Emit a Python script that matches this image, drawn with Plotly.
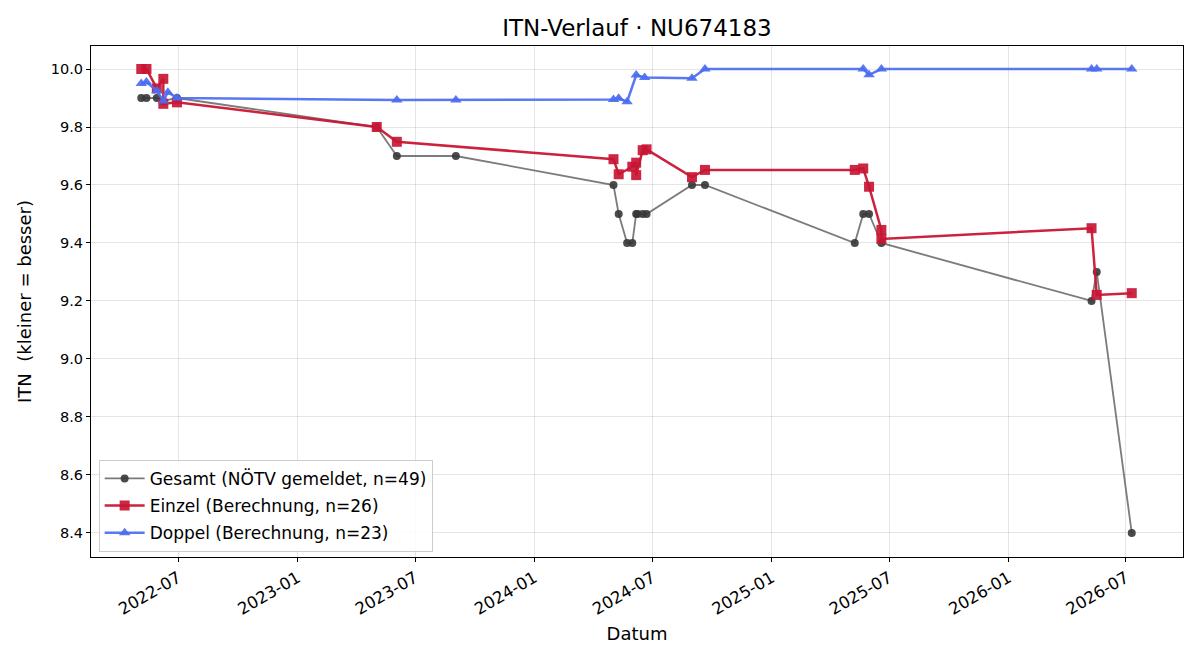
import plotly.graph_objects as go

# ---- data ----
gesamt_dates = ["2022-05-05", "2022-05-13", "2022-05-29", "2022-06-08", "2022-06-29",
                "2023-05-03", "2023-06-03", "2023-09-02",
                "2024-05-02", "2024-05-10", "2024-05-23", "2024-05-31", "2024-06-06",
                "2024-06-08", "2024-06-16", "2024-06-22", "2024-08-31", "2024-09-20",
                "2025-05-09", "2025-05-22", "2025-05-31", "2025-06-19",
                "2026-05-09", "2026-05-17", "2026-07-10"]
gesamt_vals = [9.9, 9.9, 9.9, 9.89, 9.9,
               9.8, 9.7, 9.7,
               9.6, 9.5, 9.4, 9.4, 9.5,
               9.5, 9.5, 9.5, 9.6, 9.6,
               9.4, 9.5, 9.5, 9.4,
               9.2, 9.3, 8.4]

einzel_dates = ["2022-05-05", "2022-05-13", "2022-05-29", "2022-06-08", "2022-06-08", "2022-06-29",
                "2023-05-03", "2023-06-03",
                "2024-05-02", "2024-05-10", "2024-05-31", "2024-06-06", "2024-06-06",
                "2024-06-16", "2024-06-22", "2024-08-31", "2024-09-20",
                "2025-05-09", "2025-05-22", "2025-05-31", "2025-06-19", "2025-06-19",
                "2026-05-09", "2026-05-17", "2026-07-10"]
einzel_vals = [10.0, 10.0, 9.933, 9.966, 9.88, 9.885,
               9.80, 9.749,
               9.689, 9.637, 9.663, 9.677, 9.634,
               9.72, 9.723, 9.627, 9.652,
               9.652, 9.657, 9.594, 9.445, 9.414,
               9.451, 9.221, 9.227]

doppel_dates = ["2022-05-05", "2022-05-13", "2022-05-29", "2022-06-08", "2022-06-15", "2022-06-29",
                "2023-06-03", "2023-09-02",
                "2024-05-02", "2024-05-10", "2024-05-23", "2024-06-06", "2024-06-19",
                "2024-08-31", "2024-09-20",
                "2025-05-22", "2025-05-31", "2025-06-19",
                "2026-05-09", "2026-05-17", "2026-07-10"]
doppel_vals = [9.95, 9.955, 9.925, 9.89, 9.92, 9.90,
               9.893, 9.893,
               9.895, 9.899, 9.887, 9.979, 9.971,
               9.968, 10.0,
               10.0, 9.98, 10.0,
               10.0, 10.0, 10.0]

x_tick_dates = ["2022-07-01", "2023-01-01", "2023-07-01", "2024-01-01", "2024-07-01",
                "2025-01-01", "2025-07-01", "2026-01-01", "2026-07-01"]
x_tick_labels = ["2022-07", "2023-01", "2023-07", "2024-01", "2024-07",
                 "2025-01", "2025-07", "2026-01", "2026-07"]
y_ticks = [8.4, 8.6, 8.8, 9.0, 9.2, 9.4, 9.6, 9.8, 10.0]

FONT = "DejaVu Sans"

fig = go.Figure()
fig.add_trace(go.Scatter(
    x=gesamt_dates, y=gesamt_vals, mode="lines+markers",
    name="Gesamt (NÖTV gemeldet, n=49)", legendgroup="g1",
    line=dict(color="rgba(100,100,100,0.85)", width=1.8),
    marker=dict(symbol="circle", size=8, color="rgba(55,55,55,0.9)"),
))
fig.add_trace(go.Scatter(
    x=einzel_dates, y=einzel_vals, mode="lines+markers",
    name="Einzel (Berechnung, n=26)", legendgroup="g2",
    line=dict(color="rgba(200,22,52,0.95)", width=2.5),
    marker=dict(symbol="square", size=10, color="rgba(200,22,52,0.92)"),
))
fig.add_trace(go.Scatter(
    x=doppel_dates, y=doppel_vals, mode="lines+markers",
    name="Doppel (Berechnung, n=23)", legendgroup="g3",
    line=dict(color="rgba(75,108,240,0.92)", width=2.5),
    marker=dict(symbol="triangle-up", size=10, color="rgba(75,108,240,0.92)"),
))

fig.update_layout(
    width=1200, height=660,
    margin=dict(l=91, r=17, t=46, b=103),
    paper_bgcolor="white", plot_bgcolor="white",
    font=dict(family=FONT, size=14, color="black"),
    title=dict(text="ITN-Verlauf · NU674183", x=0.5, xref="paper", xanchor="center",
               y=1 - 28 / 660, yanchor="middle", font=dict(size=23, family=FONT)),
    legend=dict(x=0.007, y=0.010, xanchor="left", yanchor="bottom",
                bgcolor="rgba(255,255,255,0.85)", bordercolor="#cccccc", borderwidth=1,
                font=dict(size=17, family=FONT), itemwidth=40, tracegroupgap=2),
    showlegend=True,
)
fig.update_xaxes(
    range=["2022-02-16 12:00", "2026-09-27"],
    tickvals=x_tick_dates, ticktext=x_tick_labels, tickangle=-30,
    tickfont=dict(size=16.5, family=FONT),
    showgrid=True, gridcolor="rgba(0,0,0,0.1)", gridwidth=1,
    showline=True, linecolor="black", linewidth=1, mirror=True,
    ticks="outside", ticklen=4, tickcolor="black",
    title=dict(text="Datum", font=dict(size=18, family=FONT), standoff=9),
    zeroline=False,
)
fig.update_yaxes(
    range=[8.3172, 10.0793],
    tickvals=y_ticks, tickformat=".1f",
    tickfont=dict(size=14.5, family=FONT),
    showgrid=True, gridcolor="rgba(0,0,0,0.1)", gridwidth=1,
    showline=True, linecolor="black", linewidth=1, mirror=True,
    ticks="outside", ticklen=4, tickcolor="black",
    title=dict(text="ITN  (kleiner = besser)", font=dict(size=18, family=FONT), standoff=14),
    zeroline=False,
)

fig.write_html("out.html")
